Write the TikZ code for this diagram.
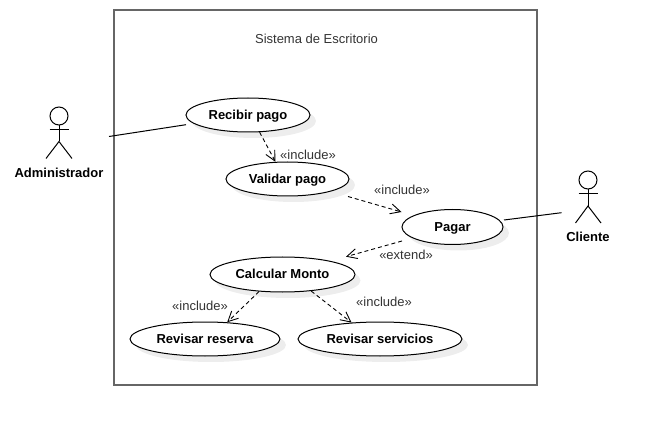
\documentclass[tikz,border=0pt]{standalone}
\usepackage{fontspec}
\setmainfont{Liberation Sans}
\usetikzlibrary{arrows.meta,shapes.geometric}
\definecolor{framegray}{HTML}{666666}
\definecolor{shadowgray}{HTML}{EDEDED}
\definecolor{notegray}{HTML}{333333}
\tikzset{>={Straight Barb[length=10pt,width=10pt]}}
\tikzset{
  usecase/.style={draw, ellipse, fill=white, inner sep=0pt, line width=1,
    text height=10.5pt, text depth=1.9pt,
    font=\fontsize{13}{15}\selectfont\bfseries},
  caseshadow/.style={ellipse, fill=shadowgray, inner sep=0pt},
  actorname/.style={font=\fontsize{13}{15}\selectfont\bfseries},
  stereotype/.style={text=notegray, font=\fontsize{13}{15}\selectfont},
  dep/.style={dashed, ->, line width=0.9, dash pattern=on 4pt off 3pt},
  assoc/.style={line width=1},
  actorhead/.style={draw, circle, minimum size=18pt, inner sep=0pt, line width=1}
}
\begin{document}
\begin{tikzpicture}[x=1pt,y=-1pt]

\useasboundingbox (0,0) rectangle (654,425);

\draw[color=framegray, line width=2] (114,10) rectangle (537,385);
\node[stereotype] (title) at (316.5,38.5) {Sistema de Escritorio};

% shadows
\node[caseshadow, minimum width=124pt, minimum height=34pt] (s1) at (254,121) {};
\node[caseshadow, minimum width=123pt, minimum height=34pt] (s2) at (293.5,185) {};
\node[caseshadow, minimum width=101pt, minimum height=35pt] (s3) at (458.5,233) {};
\node[caseshadow, minimum width=145pt, minimum height=35pt] (s4) at (288,280.5) {};
\node[caseshadow, minimum width=150pt, minimum height=34pt] (s5) at (211,345) {};
\node[caseshadow, minimum width=164pt, minimum height=34pt] (s6) at (386,345) {};

% use cases
\node[usecase, minimum width=124pt, minimum height=34pt] (recibir) at (248,115) {Recibir pago};
\node[usecase, minimum width=123pt, minimum height=34pt] (validar) at (287.5,179) {Validar pago};
\node[usecase, minimum width=101pt, minimum height=35pt] (pagar) at (452.5,227) {Pagar};
\node[usecase, minimum width=145pt, minimum height=35pt] (calcular) at (282.5,274.5) {Calcular Monto};
\node[usecase, minimum width=150pt, minimum height=34pt] (reserva) at (205,339) {Revisar reserva};
\node[usecase, minimum width=164pt, minimum height=34pt] (servicios) at (380,339) {Revisar servicios};

% actors
\node[actorhead] (adminhead) at (59,116) {};
\draw[assoc] (adminhead.south)--(59,141.5);
\draw[assoc] (49.5,130)--(68.5,130);
\draw[assoc] (46,158.5)--(59,141.5)--(72,158.5);
\node[actorname] (admin) at (59,172.5) {Administrador};

\node[actorhead] (clientehead) at (588,180) {};
\draw[assoc] (clientehead.south)--(588,206);
\draw[assoc] (578.5,194)--(597.5,194);
\draw[assoc] (575.5,223)--(588,206)--(601,223);
\node[actorname] (cliente) at (588,236.5) {Cliente};

% free ends
\coordinate (adminend) at (109,136.5);
\coordinate (recibirin) at (186,124.7);
\coordinate (clienteend) at (561.5,212.7);
\coordinate (pagarend) at (504,220);
\coordinate (validarout) at (348,196.5);
\coordinate (pagarin) at (401.5,212);
\coordinate (pagarout) at (402,241);
\coordinate (calcularin) at (346,256.7);

\draw[assoc] (adminend)--(recibirin);
\draw[assoc] (pagarend)--(clienteend);

\draw[dep] (recibir.-56.6)--(validar.125);
\draw[dep] (validarout)--(pagarin);
\draw[dep] (pagarout)--(calcularin);
\draw[dep] (calcular.216.6)--(reserva.37);
\draw[dep] (calcular.330)--(servicios.150.5);

\node[stereotype] (inc1) at (308,155) {«include»};
\node[stereotype] (inc2) at (402,190) {«include»};
\node[stereotype] (ext1) at (406,255) {«extend»};
\node[stereotype] (inc3) at (200,306) {«include»};
\node[stereotype] (inc4) at (384,302) {«include»};

\end{tikzpicture}
\end{document}
